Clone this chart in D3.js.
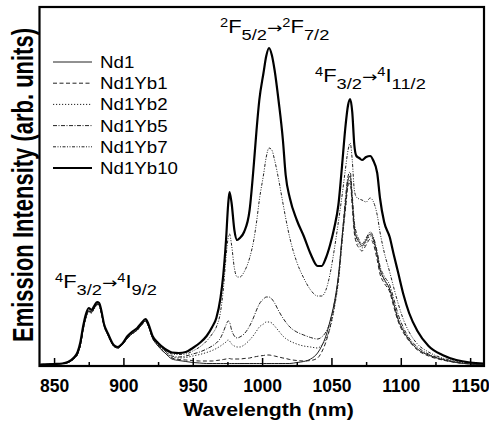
<!DOCTYPE html>
<html>
<head>
<script src="https://d3js.org/d3.v7.min.js"></script>
<style>
body { margin: 0; background: #fff; }
svg text { font-family: "Liberation Sans", Arial, sans-serif; fill: #000; }
.tick text { font-weight: bold; font-size: 17.5px; }
</style>
</head>
<body>
<script>
// wavelength grid (nm) shared by all spectra
var wavelength = [840, 850, 856, 860, 864, 867, 869, 871, 873, 875, 877, 879, 881, 882.5, 884, 886, 889, 893, 896, 899,
    903, 907, 910, 913, 916, 918, 921, 925, 930, 935, 940, 945, 950, 955, 960, 964, 967, 970, 972, 974,
    975.5, 976.5, 978, 980, 982, 984, 987, 991, 994, 996, 998, 1001, 1003, 1005, 1007, 1009, 1012, 1015, 1017, 1020,
    1025, 1030, 1035, 1040, 1043, 1046, 1049, 1052, 1055, 1058, 1060, 1062, 1063.5, 1065, 1066.5, 1068, 1070, 1072, 1075, 1078,
    1080, 1083, 1085, 1088, 1092, 1095, 1098, 1102, 1106, 1112, 1120, 1130, 1140, 1150, 1160];

// emission intensity (arb. units)
var nd1 = [1.5, 2, 2.5, 3.5, 7, 12, 21, 37, 49, 55, 54, 58, 62, 61, 54, 41, 31, 20, 18, 21,
    28, 33, 36, 41, 45, 40, 28, 20, 13, 7, 5.5, 4.5, 3.5, 3, 2.5, 2.5, 2.5, 2.5, 2.5, 2.5,
    2.5, 2.5, 2.5, 2.5, 2.5, 2.5, 2.5, 2.5, 2.5, 2.5, 2.5, 2.5, 2.5, 2.5, 2.5, 2.5, 2.5, 2.5, 2.5, 2.5,
    3.5, 4.5, 7, 13, 20, 30, 45, 63, 90, 134, 161, 186, 190, 166, 139, 129, 124, 120, 126, 132,
    128, 111, 97, 87, 77, 62, 47, 35, 26, 17, 11, 6.5, 3.5, 2, 1];
var nd1yb1 = [1.5, 2, 2.5, 3.5, 7, 12, 21, 37, 49, 55, 54, 58, 62, 61, 54, 41, 31, 20, 18, 21,
    28, 33, 36, 41, 45, 40, 28, 20, 13, 8, 6.5, 6, 5.5, 5, 5, 5, 5.5, 6, 6.5, 7,
    7.5, 7.5, 7, 7, 7, 7, 7.5, 8, 9, 9.5, 10, 10.5, 11, 11, 10.5, 10, 9, 8, 7.5, 6.5,
    5.5, 5, 5.5, 8, 14, 24, 39, 59, 86, 130, 156, 180, 183, 160, 133, 123, 118, 115, 121, 127,
    123, 106, 92, 83, 74, 59, 45, 33, 25, 16, 10, 6, 3.5, 2, 1];
var nd1yb2 = [1.5, 2, 2.5, 3.5, 7, 12, 21, 37, 49, 55, 54, 58, 62, 61, 54, 41, 31, 20, 18, 21,
    28, 33, 36, 41, 45, 40, 28, 21, 15, 9, 8, 8.5, 10, 11.5, 13.5, 15.5, 17.5, 20, 22, 24,
    26, 25, 22, 20, 19, 19, 21, 26, 31, 35, 39, 42, 44, 44, 43, 40, 35, 30, 27.5, 25,
    22, 20, 19, 18, 21, 27, 38, 57, 84, 128, 156, 182, 186, 163, 136, 126, 121, 118, 124, 130,
    126, 110, 96, 86, 76, 62, 47, 35, 26, 17, 11, 6.5, 3.5, 2, 1];
var nd1yb5 = [1.5, 2, 2.5, 3.5, 7, 12, 21, 37, 49, 55, 54, 58, 62, 61, 54, 41, 31, 20, 18, 21,
    28, 33, 36, 41, 45, 40, 28, 21, 15, 10, 9, 10, 12, 14, 17, 20, 23, 28, 34, 41,
    45, 44, 36, 30, 28, 29, 32, 40, 49, 56, 62, 67, 69, 69, 67, 63, 55, 48, 44, 39,
    34, 31, 28.5, 27, 29, 34, 44, 62, 89, 134, 166, 190, 194, 171, 144, 133, 126, 122, 128, 134,
    130, 114, 100, 90, 81, 67, 52, 38, 28, 19, 12, 7, 4, 2.5, 1.5];
var nd1yb7 = [1.5, 2, 2.5, 3.5, 7, 12, 21, 36, 48, 54, 53, 57, 61, 60, 53, 40, 30, 20, 18, 21,
    28, 33, 36, 41, 45, 40, 29, 22, 16, 12, 11.5, 12, 15, 19, 25, 32, 39, 54, 76, 109,
    128, 132, 121, 98, 89, 89, 94, 108, 126, 144, 166, 191, 209, 218, 216, 206, 186, 163, 148, 128,
    104, 88, 76, 70, 70, 76, 92, 116, 144, 174, 196, 216, 223, 206, 176, 169, 167, 166, 164, 168,
    165, 151, 134, 114, 94, 78, 63, 46, 34, 22, 14, 8, 5, 3, 2];
var nd1yb10 = [1.5, 2, 2.5, 4, 8, 14, 24, 40, 52, 58, 56, 60, 64, 63, 56, 42, 32, 21, 19, 22,
    30, 35, 38, 43, 47, 42, 30, 23, 17, 13.5, 13, 14, 18, 23, 30, 39, 48, 68, 91, 126,
    161, 174, 163, 136, 126, 128, 134, 156, 201, 236, 266, 293, 310, 318, 311, 296, 264, 226, 191, 168,
    146, 130, 112, 100, 100, 108, 121, 138, 161, 206, 238, 261, 267, 254, 221, 210, 208, 206, 209, 210,
    206, 193, 168, 144, 129, 111, 94, 71, 53, 35, 20, 11, 6, 3.5, 2.5];

var seriesNames = ["Nd1", "Nd1Yb1", "Nd1Yb2", "Nd1Yb5", "Nd1Yb7", "Nd1Yb10"];
var seriesValues = [nd1, nd1yb1, nd1yb2, nd1yb5, nd1yb7, nd1yb10];
var xMajor = [850, 900, 950, 1000, 1050, 1100, 1150];
var xMinor = [875, 925, 975, 1025, 1075, 1125];

var width = 489, height = 426;
var plotLeft = 39.5, plotRight = 484, plotTop = 7, plotBottom = 366;

var styles = [
    {dash: null, w: 1, c: "#222"},
    {dash: "4,2.5", w: 1, c: "#222"},
    {dash: "1.2,1.8", w: 1, c: "#222"},
    {dash: "4,1.5,1,1.5", w: 1, c: "#222"},
    {dash: "3,1.5,1,1.5,1,1.5", w: 1, c: "#222"},
    {dash: null, w: 2.2, c: "#000"}
];

var svg = d3.select("body").append("svg")
    .attr("width", width)
    .attr("height", height);

var x = d3.scaleLinear().domain([839.5, 1160]).range([plotLeft, plotRight]);
var y = d3.scaleLinear().domain([0, 359]).range([plotBottom, plotTop]);

svg.append("clipPath").attr("id", "clip")
    .append("rect").attr("x", plotLeft).attr("y", plotTop)
    .attr("width", plotRight - plotLeft).attr("height", plotBottom - plotTop);

var line = d3.line()
    .x(function(d) { return x(d[0]); })
    .y(function(d) { return y(d[1]); })
    .curve(d3.curveMonotoneX);

var g = svg.append("g").attr("clip-path", "url(#clip)");
seriesValues.forEach(function(vals, i) {
    var pts = wavelength.map(function(w, j) { return [w, vals[j]]; });
    g.append("path")
        .attr("d", line(pts))
        .attr("fill", "none")
        .attr("stroke", styles[i].c)
        .attr("stroke-width", styles[i].w)
        .attr("stroke-dasharray", styles[i].dash);
});

// axes: ticks point inward
svg.append("g").attr("transform", "translate(0," + plotBottom + ")")
    .call(d3.axisBottom(x).tickValues(xMinor).tickSize(-4).tickFormat(""));
svg.append("g").attr("transform", "translate(0," + plotBottom + ")")
    .call(d3.axisBottom(x).tickValues(xMajor).tickSize(-8).tickPadding(14).tickFormat(d3.format("d")));
svg.selectAll(".domain").remove();
svg.selectAll(".tick line").attr("stroke", "#000").attr("stroke-width", 1.5);
svg.selectAll(".tick text").attr("font-family", null).attr("font-size", null);

svg.append("rect")
    .attr("x", plotLeft).attr("y", plotTop)
    .attr("width", plotRight - plotLeft).attr("height", plotBottom - plotTop)
    .attr("fill", "none").attr("stroke", "#000").attr("stroke-width", 2.2);

// axis titles
svg.append("text")
    .attr("transform", "translate(268.5,416) scale(1.12,1)")
    .attr("text-anchor", "middle")
    .style("font-weight", "bold").style("font-size", "19px")
    .text("Wavelength (nm)");

svg.append("text")
    .attr("transform", "translate(33,185) scale(1.3,1) rotate(-90)")
    .attr("text-anchor", "middle")
    .style("font-weight", "bold").style("font-size", "22px")
    .text("Emission Intensity (arb. units)");

// legend
var legend = svg.append("g");
seriesNames.forEach(function(name, i) {
    var cy = 62 + i * 21.2;
    legend.append("line")
        .attr("x1", 53).attr("x2", 92).attr("y1", cy).attr("y2", cy)
        .attr("stroke", styles[i].c)
        .attr("stroke-width", i == 5 ? 1.8 : 1)
        .attr("stroke-dasharray", styles[i].dash);
    legend.append("text")
        .attr("transform", "translate(100," + (cy + 6) + ") scale(1.1,1)")
        .style("font-size", "17px")
        .text(name);
});

// transition labels
var sizes = {main: "18px", sub: "15px", sup: "12px", arrow: "15px"};
function transition(xp, yp, parts) {
    var t = svg.append("text").attr("transform", "translate(" + xp + "," + yp + ") scale(1.22,1)");
    var shift = 0;
    parts.forEach(function(p) {
        var target = p[1] == "sup" ? -6 : p[1] == "sub" ? 7 : 0;
        var ts = t.append("tspan").attr("dy", target - shift).style("font-size", sizes[p[1]]).text(p[0]);
        if (p[1] == "arrow") ts.style("font-family", "'DejaVu Sans', sans-serif");
        shift = target;
    });
}
transition(220, 33, [["2", "sup"], ["F", "main"], ["5/2", "sub"], ["\u2192", "arrow"], ["2", "sup"], ["F", "main"], ["7/2", "sub"]]);
transition(315, 82, [["4", "sup"], ["F", "main"], ["3/2", "sub"], ["\u2192", "arrow"], ["4", "sup"], ["I", "main"], ["11/2", "sub"]]);
transition(55, 288, [["4", "sup"], ["F", "main"], ["3/2", "sub"], ["\u2192", "arrow"], ["4", "sup"], ["I", "main"], ["9/2", "sub"]]);
</script>
</body>
</html>
